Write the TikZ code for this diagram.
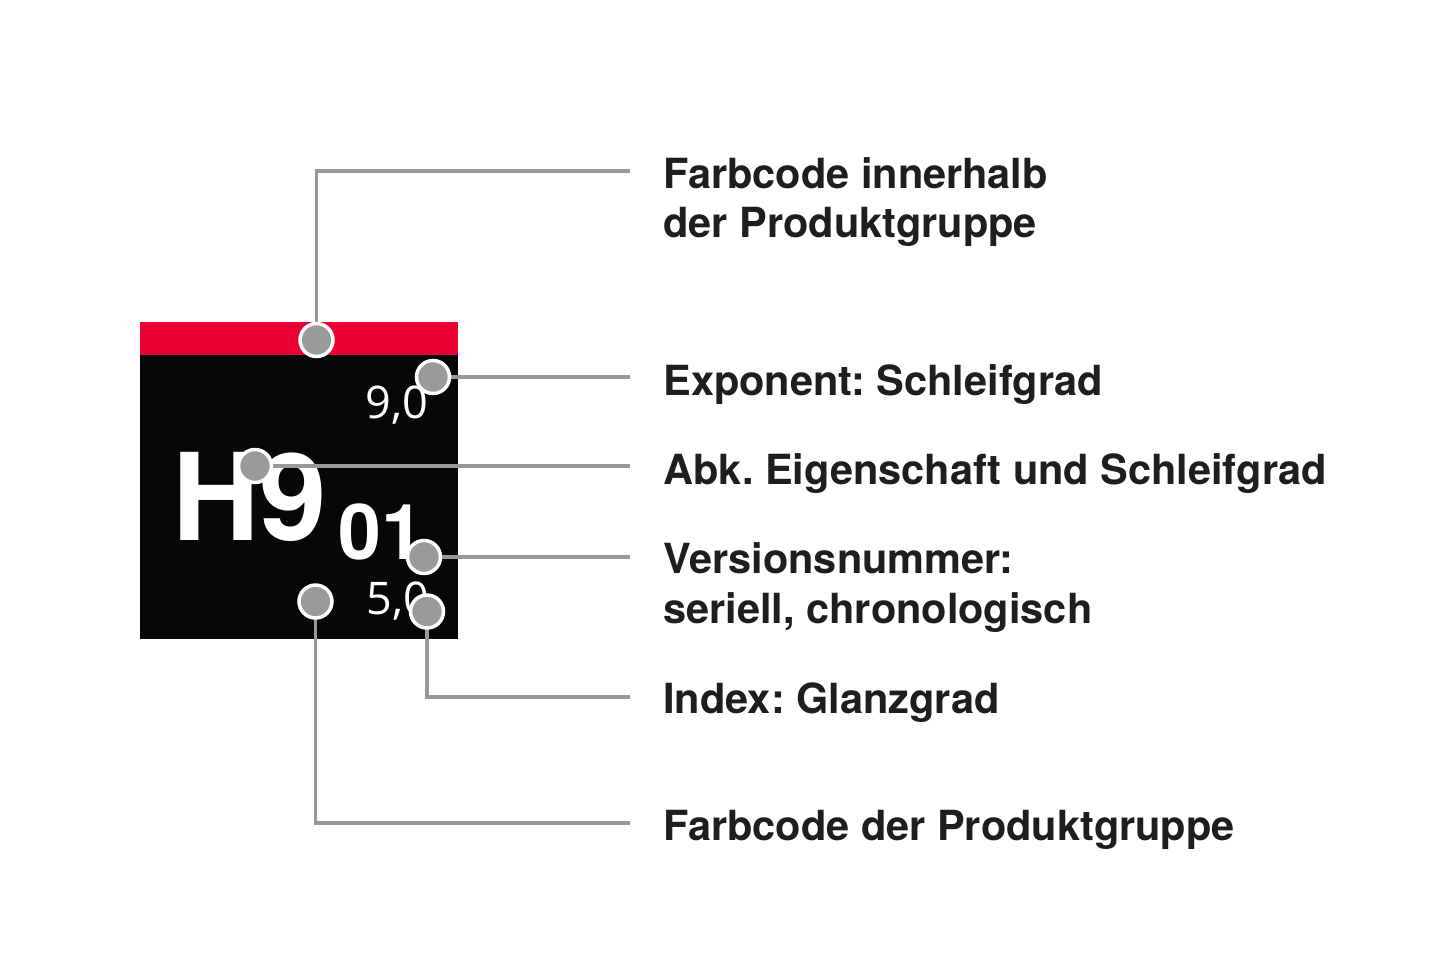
\documentclass[tikz,border=0pt]{standalone}
\usepackage{fontspec}
\setmainfont{TeX Gyre Heros}
\newfontfamily\numfont{Open Sans}
\definecolor{redbar}{HTML}{EC0032}
\definecolor{boxblack}{HTML}{050807}
\definecolor{linegray}{HTML}{999999}
\definecolor{dotgray}{HTML}{9A9A9A}
\definecolor{labeltext}{HTML}{1E1E1E}
\pgfdeclarelayer{lines}
\pgfdeclarelayer{front}
\pgfsetlayers{main,lines,front}
\tikzset{
  lbl/.style={anchor=base west, inner sep=0pt, text=labeltext,
    font=\fontsize{20.75pt}{25pt}\selectfont\bfseries\frenchspacing},
  dot/.style={circle, fill=dotgray, draw=white, line width=1.75pt,
    minimum size=16.5pt, inner sep=0pt},
  conn/.style={draw=linegray, line width=1.6pt},
  small/.style={anchor=base west, inner sep=0pt, text=white,
    font=\fontsize{22.5pt}{25pt}\numfont},
}
\begin{document}
\begin{tikzpicture}[x=0.5pt, y=-0.5pt]
\useasboundingbox (0,0) rectangle (1440,960);
% box
\fill[boxblack] (140,355) rectangle (457.5,639);
\fill[redbar] (140,322) rectangle (457.5,355);
\node[small] (exp) at (365,418) {9,0};
\node[small] (idx) at (366,614) {5,0};
\node[anchor=base west, inner sep=0pt, text=white,
  font=\fontsize{60.5pt}{70pt}\selectfont\bfseries] (main) at (172,540) {H9};
\node[anchor=base west, inner sep=0pt, text=white,
  font=\fontsize{38.5pt}{40pt}\selectfont\bfseries] (ver) at (338,559) {01};
% labels
\node[lbl] (l1a) at (663,188) {Farbcode innerhalb};
\node[lbl] (l1b) at (663,237) {der Produktgruppe};
\node[lbl] (l2) at (663,395) {Exponent: Schleifgrad};
\node[lbl] (l3) at (663,484) {Abk. Eigenschaft und Schleifgrad};
\node[lbl] (l4a) at (663,573) {Versionsnummer:};
\node[lbl] (l4b) at (663,623) {seriell, chronologisch};
\node[lbl] (l5) at (663,713) {Index: Glanzgrad};
\node[lbl] (l6) at (663,840) {Farbcode der Produktgruppe};
% line ends
\coordinate (e1) at (630,171);
\coordinate (e2) at (630,377);
\coordinate (e3) at (630,466);
\coordinate (e4) at (630,557);
\coordinate (e5) at (630,697);
\coordinate (e6) at (630,823);
% dots
\begin{pgfonlayer}{front}
\node[dot] (d1) at (316.5,340) {};
\node[dot] (d2) at (433,377) {};
\node[dot] (d3) at (255,466) {};
\node[dot] (d4) at (424,557) {};
\node[dot] (d5) at (315.5,601.5) {};
\node[dot] (d6) at (427,611.5) {};
\end{pgfonlayer}
% connectors
\begin{pgfonlayer}{lines}
\draw[conn] (d1.center) |- (e1);
\draw[conn] (d2.center) -- (e2);
\draw[conn] (d3.center) -- (e3);
\draw[conn] (d4.center) -- (e4);
\draw[conn] (d6.center) |- (e5);
\draw[conn] (d5.center) |- (e6);
\end{pgfonlayer}
\end{tikzpicture}
\end{document}
